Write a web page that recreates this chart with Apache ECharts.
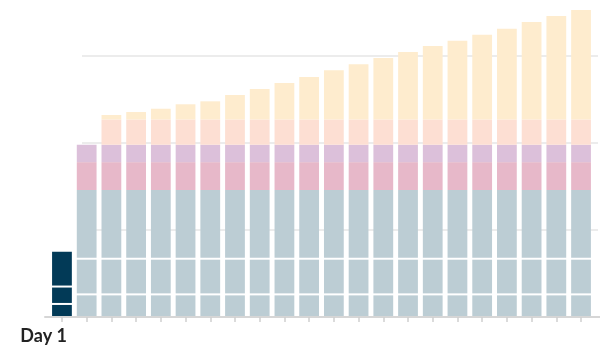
<!DOCTYPE html>
<html>
<head>
<meta charset="utf-8">
<script src="https://cdn.jsdelivr.net/npm/echarts@6/dist/echarts.min.js"></script>
<style>
html,body{margin:0;padding:0;background:#fff;}
#chart{width:600px;height:358px;}
</style>
</head>
<body>
<div id="chart"></div>
<script>
// Categories (tick labels): only the first is printed on the axis
const categories = ['Day 1','Day 2','Day 3','Day 4','Day 5','Day 6','Day 7','Day 8','Day 9','Day 10','Day 11',
  'Day 12','Day 13','Day 14','Day 15','Day 16','Day 17','Day 18','Day 19','Day 20','Day 21','Day 22'];

// Stacked layers, bottom to top (null = no segment)
const part1 = [15, 26, 26, 26, 26, 26, 26, 26, 26, 26, 26, 26, 26, 26, 26, 26, 26, 26, 26, 26, 26, 26];
const part2 = [20, 41, 41, 41, 41, 41, 41, 41, 41, 41, 41, 41, 41, 41, 41, 41, 41, 41, 41, 41, 41, 41];
const part3 = [40, 79, 79, 79, 79, 79, 79, 79, 79, 79, 79, 79, 79, 79, 79, 79, 79, 79, 79, 79, 79, 79];
const pink = [null, 32, 32, 32, 32, 32, 32, 32, 32, 32, 32, 32, 32, 32, 32, 32, 32, 32, 32, 32, 32, 32];
const lavender = [null, 20, 20, 20, 20, 20, 20, 20, 20, 20, 20, 20, 20, 20, 20, 20, 20, 20, 20, 20, 20, 20];
const peach = [null, null, 29, 29, 29, 29, 29, 29, 29, 29, 29, 29, 29, 29, 29, 29, 29, 29, 29, 29, 29, 29];
const yellow = [null, null, 5.2, 8.6, 12.4, 17.5, 20.9, 28.2, 35.1, 42, 48.9, 56.6, 63.5, 70.7, 77.6,
  84.5, 90.6, 97.5, 104.4, 112.1, 119, 125.9];

const gridTicks = [0, 100, 200, 300];

const DARK = '#023a57', LIGHTBLUE = '#bccdd4';
const layers = [
  {values: part1, color: i => i === 0 ? DARK : LIGHTBLUE, gapTop: true, gapBottom: true},
  {values: part2, color: i => i === 0 ? DARK : LIGHTBLUE, gapTop: true, gapBottom: true},
  {values: part3, color: i => i === 0 ? DARK : LIGHTBLUE, gapTop: false, gapBottom: true},
  {values: pink, color: () => '#e7b8c9', gapTop: false, gapBottom: false},
  {values: lavender, color: () => '#dcc0da', gapTop: false, gapBottom: false},
  {values: peach, color: () => '#fddfd3', gapTop: false, gapBottom: false},
  {values: yellow, color: () => '#feecce', gapTop: false, gapBottom: false}
];

// stacking: base of each layer = sum of the layers below
const series = layers.map((layer, li) => {
  const data = [];
  layer.values.forEach((v, i) => {
    if (v == null) return;
    let base = 0;
    for (let k = 0; k < li; k++) base += (layers[k].values[i] || 0);
    data.push([i, v, base]);
  });
  return {
    type: 'custom',
    xAxisIndex: 0, yAxisIndex: 0,
    data: data,
    encode: {x: 0, y: 1},
    renderItem: function (params, api) {
      const i = api.value(0), v = api.value(1), base = api.value(2);
      const pBase = api.coord([i, base]);
      const pTop = api.coord([i, base + v]);
      const w = api.size([1, 0])[0] * 0.8;
      let y = pTop[1], h = pBase[1] - pTop[1];
      if (layer.gapTop) { y += 1; h -= 1; }
      if (layer.gapBottom) { h -= 1; }
      return {
        type: 'rect',
        shape: {x: pBase[0] - w / 2, y: y, width: w, height: h},
        style: {fill: layer.color(i)}
      };
    },
    z: 3
  };
});

const chart = echarts.init(document.getElementById('chart'), null, {renderer: 'canvas'});
chart.setOption({
  animation: false,
  backgroundColor: '#fff',
  grid: [
    {left: 49.6, right: 6.6, top: 3.8, bottom: 41, containLabel: false},
    {left: 82, right: 2, top: 56, bottom: 41, containLabel: false},
    {left: 45, right: 0, top: 56, bottom: 41, containLabel: false}
  ],
  xAxis: [
    {
      type: 'category', gridIndex: 0, data: categories,
      axisLine: {show: false},
      axisTick: {show: true, alignWithLabel: true, length: 5, lineStyle: {color: '#cfcfcf', width: 1.5}},
      axisLabel: {
        show: true, interval: 0, margin: 10,
        formatter: (val, idx) => idx === 0 ? val : '',
        align: 'right', padding: [0, -5, 0, 0],
        fontFamily: 'Lato', fontWeight: 'bold', fontSize: 18, color: '#222'
      },
      splitLine: {show: false}, z: 5
    },
    {type: 'value', gridIndex: 1, show: false},
    {type: 'value', gridIndex: 2, axisLine: {show: true, lineStyle: {color: '#d6d6d6', width: 2}},
      axisTick: {show: false}, axisLabel: {show: false}, splitLine: {show: false}, z: 4}
  ],
  yAxis: [
    {type: 'value', gridIndex: 0, min: 0, max: 360, show: false},
    {type: 'value', gridIndex: 1, min: gridTicks[0], max: gridTicks[gridTicks.length - 1], interval: 100,
      axisLine: {show: false}, axisTick: {show: false}, axisLabel: {show: false},
      splitLine: {show: true, lineStyle: {color: '#ececec', width: 2}}},
    {type: 'value', gridIndex: 2, show: false}
  ],
  series: series
});
</script>
</body>
</html>
